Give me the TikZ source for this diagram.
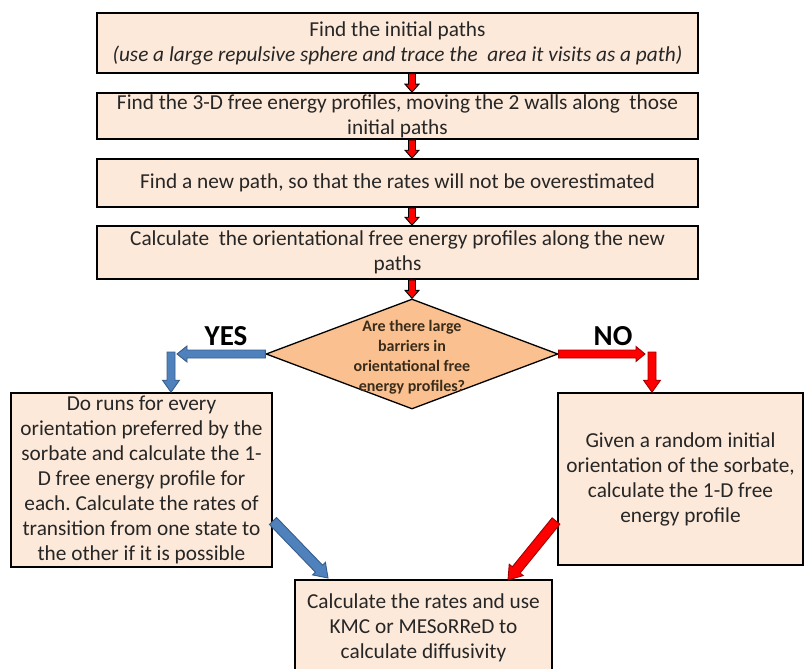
\documentclass[tikz,border=0pt]{standalone}
\usepackage{fontspec}
\setmainfont{Carlito}
\usetikzlibrary{calc,shapes.geometric}
\frenchspacing
\definecolor{boxfill}{HTML}{FDE9D9}
\definecolor{diafill}{HTML}{FAC090}
\definecolor{txt}{HTML}{262626}
\definecolor{diatxt}{HTML}{3A2C1A}
\definecolor{bluef}{HTML}{4F81BD}
\definecolor{blued}{HTML}{385D8A}
\definecolor{redf}{HTML}{FF0000}
\definecolor{redd}{HTML}{A00000}
\newcommand\blockarrow[6]{%
  \path (#3) coordinate (baE) ($(#3)!#6!(#2)$) coordinate (baB);
  \draw[#1] ($(#2)!#4!90:(baE)$) -- ($(baB)!#4!90:(baE)$) -- ($(baB)!#5!90:(baE)$) -- (baE)
    -- ($(baB)!#5!-90:(baE)$) -- ($(baB)!#4!-90:(baE)$) -- ($(#2)!#4!-90:(baE)$) -- cycle;
}
\tikzset{
  box/.style={draw=black, line width=1.6pt, fill=boxfill, align=center, inner sep=0pt,
    text=txt, font=\fontsize{21.3}{25}\selectfont},
  diatext/.style={align=center, text=diatxt, font=\fontsize{16}{20}\selectfont\bfseries},
  yn/.style={font=\fontsize{29}{32}\selectfont\bfseries, text=black},
  redv/.style={fill=redf, draw=black, line width=0.9pt, line join=miter},
  redo/.style={fill=redf, draw=redd, line width=0.9pt, line join=miter},
  bluea/.style={fill=bluef, draw=blued, line width=0.9pt, line join=miter},
}
\begin{document}
\begin{tikzpicture}[x=1pt, y=-1pt]
\useasboundingbox (0,0) rectangle (804,669);
\node[box, minimum width=601pt, minimum height=60pt] (b1) at (397.5,43)
  {Find the initial paths\\\textit{(use a large repulsive sphere and trace the\ \ area it visits as a path)}};
\node[box, minimum width=601pt, minimum height=46pt] (b2) at (397.5,116)
  {Find the 3-D free energy profiles, moving the 2 walls along\ \ those\\initial paths};
\node[box, minimum width=601pt, minimum height=48pt] (b3) at (397.5,183)
  {Find a new path, so that the rates will not be overestimated};
\node[box, minimum width=601pt, minimum height=53pt] (b4) at (397.5,252.5)
  {Calculate\ \ the orientational free energy profiles along the new\\paths};
\node[diamond, draw=black, line width=1.3pt, fill=diafill, minimum width=292pt,
  minimum height=110pt, inner sep=0pt] (dia) at (412,354) {};
\node[diatext] (q) at (412,357) {Are there large\\barriers in\\orientational free\\energy profiles?};
\node[yn] (yes) at (226,336) {YES};
\node[yn] (no) at (613,336) {NO};
\node[box, minimum width=261pt, minimum height=174pt] (lb) at (141.5,480)
  {Do runs for every\\orientation preferred by the\\sorbate and calculate the 1-\\D free energy profile for\\each. Calculate the rates of\\transition from one state to\\the other if it is possible};
\node[box, minimum width=245pt, minimum height=172pt] (rb) at (680.5,479)
  {Given a random initial\\orientation of the sorbate,\\calculate the 1-D free\\energy profile};
\node[box, anchor=north, minimum width=257pt, minimum height=96pt] (bb) at (423.5,579)
  {Calculate the rates and use\\KMC or MESoRReD to\\calculate diffusivity};
% connector points
\coordinate (a1s) at (b1.south -| dia.north);
\coordinate (a1e) at (b2.north -| dia.north);
\coordinate (a2s) at (b2.south -| dia.north);
\coordinate (a2e) at (b3.north -| dia.north);
\coordinate (a3s) at (b3.south -| dia.north);
\coordinate (a3e) at (b4.north -| dia.north);
\coordinate (a4s) at (b4.south -| dia.north);
\coordinate (yesend) at (177,354);
\coordinate (ydown) at (171,352);
\coordinate (ydowne) at (lb.north -| ydown);
\coordinate (noend) at (645,354);
\coordinate (ndown) at (652,352);
\coordinate (ndowne) at (rb.north -| ndown);
\coordinate (bd1) at (273,521);
\coordinate (bd2) at (328,578);
\coordinate (rd1) at (556,521);
\coordinate (rd2) at (508,580);
% arrows
\blockarrow{redv}{a1s}{a1e}{3.5pt}{7pt}{8pt}
\blockarrow{redv}{a2s}{a2e}{3.5pt}{7pt}{8pt}
\blockarrow{redv}{a3s}{a3e}{3.5pt}{7pt}{8pt}
\blockarrow{redv}{a4s}{dia.north}{3.5pt}{7pt}{8pt}
\blockarrow{bluea}{dia.west}{yesend}{4pt}{8pt}{10pt}
\blockarrow{bluea}{ydown}{ydowne}{4pt}{8.5pt}{12pt}
\blockarrow{redo}{dia.east}{noend}{4pt}{7.5pt}{9pt}
\blockarrow{redo}{ndown}{ndowne}{4pt}{8.5pt}{12pt}
\blockarrow{bluea}{bd1}{bd2}{5pt}{9pt}{13pt}
\blockarrow{redo}{rd1}{rd2}{5pt}{9pt}{13pt}
\end{tikzpicture}
\end{document}
